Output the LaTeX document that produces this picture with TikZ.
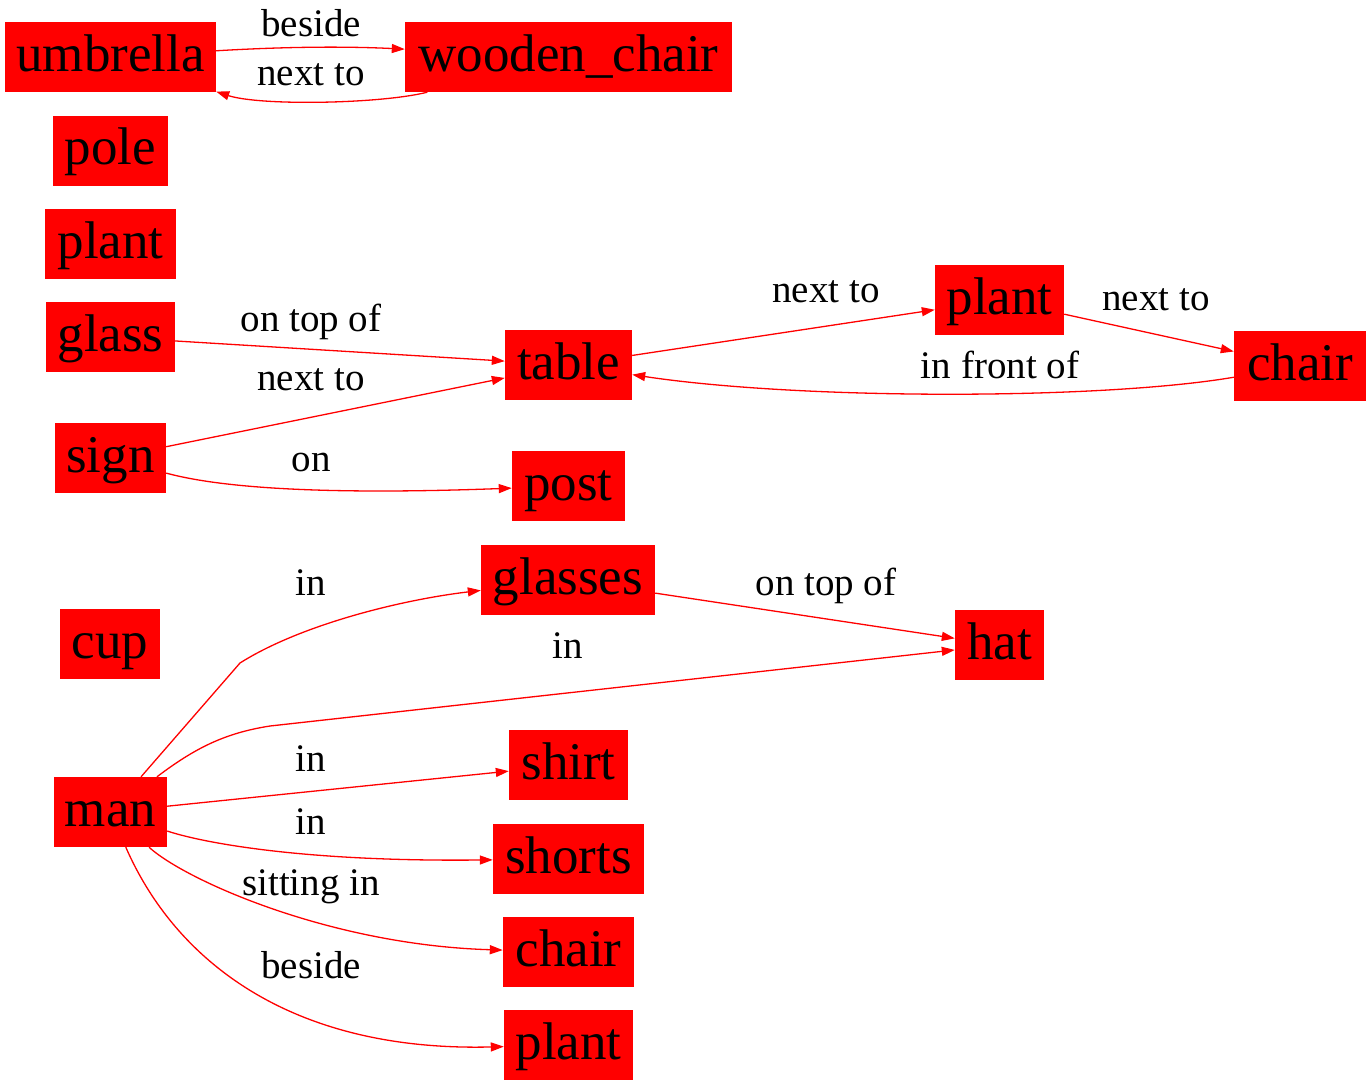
\documentclass[tikz,border=0pt]{standalone}
\usepackage{fontspec}
\setmainfont{Liberation Serif}
\usetikzlibrary{arrows.meta}
\begin{document}
\begin{tikzpicture}[x=1pt,y=-1pt,
  box/.style={fill=red,draw=none,inner sep=0pt,minimum height=70pt,
    text height=38pt,text depth=10pt,font=\fontsize{53}{60}\selectfont},
  lbl/.style={anchor=base,inner sep=0pt,font=\fontsize{39}{45}\selectfont},
  edge/.style={draw=red,line width=1.3pt,-{Triangle[length=13pt,width=9pt]}}]
\useasboundingbox (0,0) rectangle (1371,1085);
% nodes
\node[box,minimum width=211pt] (umbrella) at (110.5,57) {umbrella};
\node[box,minimum width=327pt] (wchair) at (568.5,57) {wooden\_chair};
\node[box,minimum width=115pt] (pole) at (110.5,150.5) {pole};
\node[box,minimum width=131pt] (plantA) at (110.5,244) {plant};
\node[box,minimum width=129pt] (glass) at (110.5,337) {glass};
\node[box,minimum width=111pt] (sign) at (110.5,458) {sign};
\node[box,minimum width=127pt] (table) at (568.5,365) {table};
\node[box,minimum width=113pt] (post) at (568.5,486) {post};
\node[box,minimum width=129pt] (plantB) at (999.5,300) {plant};
\node[box,minimum width=132pt] (chairA) at (1300,366) {chair};
\node[box,minimum width=174pt] (glasses) at (568,580) {glasses};
\node[box,minimum width=89pt] (hat) at (999.5,645) {hat};
\node[box,minimum width=100pt] (cup) at (110,644) {cup};
\node[box,minimum width=113pt] (man) at (110.5,812) {man};
\node[box,minimum width=119pt] (shirt) at (568.5,765) {shirt};
\node[box,minimum width=151pt] (shorts) at (568.5,859) {shorts};
\node[box,minimum width=131pt] (chairB) at (568.5,952) {chair};
\node[box,minimum width=129pt] (plantC) at (568.5,1045) {plant};
% edges
\draw[edge] (umbrella) .. controls (280,47) and (340,46) .. (wchair);
\draw[edge] (wchair) .. controls (380,104) and (260,106) .. (umbrella);
\draw[edge] (glass) -- (table);
\draw[edge] (sign) -- (table);
\draw[edge] (sign) .. controls (210,485) and (300,496) .. (post);
\draw[edge] (table) -- (plantB);
\draw[edge] (plantB) -- (chairA);
\draw[edge] (chairA) .. controls (1100,400) and (800,400) .. (table);
\coordinate (k1) at (240,663);
\draw[edge] (man) -- (k1) .. controls (300,625) and (400,600) .. (glasses);
\draw[edge] (glasses) -- (hat);
\coordinate (k2) at (270,726);
\draw[edge] (man) .. controls (195,748) and (225,733) .. (k2) -- (hat);
\draw[edge] (man) -- (shirt);
\draw[edge] (man) .. controls (200,842) and (300,862) .. (shorts);
\draw[edge] (man) .. controls (185,880) and (330,945) .. (chairB);
\draw[edge] (man) .. controls (175,960) and (290,1052) .. (plantC);
% labels
\node[lbl] (l1) at (311,36) {beside};
\node[lbl] (l2) at (311,85) {next to};
\node[lbl] (l3) at (311,331) {on top of};
\node[lbl] (l4) at (311,390) {next to};
\node[lbl] (l5) at (311,471) {on};
\node[lbl] (l6) at (826,302) {next to};
\node[lbl] (l7) at (1156,310) {next to};
\node[lbl] (l8) at (1000,378) {in front of};
\node[lbl] (l9) at (311,595) {in};
\node[lbl] (l10) at (826,595) {on top of};
\node[lbl] (l11) at (568,658) {in};
\node[lbl] (l12) at (311,771) {in};
\node[lbl] (l13) at (311,834) {in};
\node[lbl] (l14) at (311,895) {sitting in};
\node[lbl] (l15) at (311,978) {beside};
\end{tikzpicture}
\end{document}
